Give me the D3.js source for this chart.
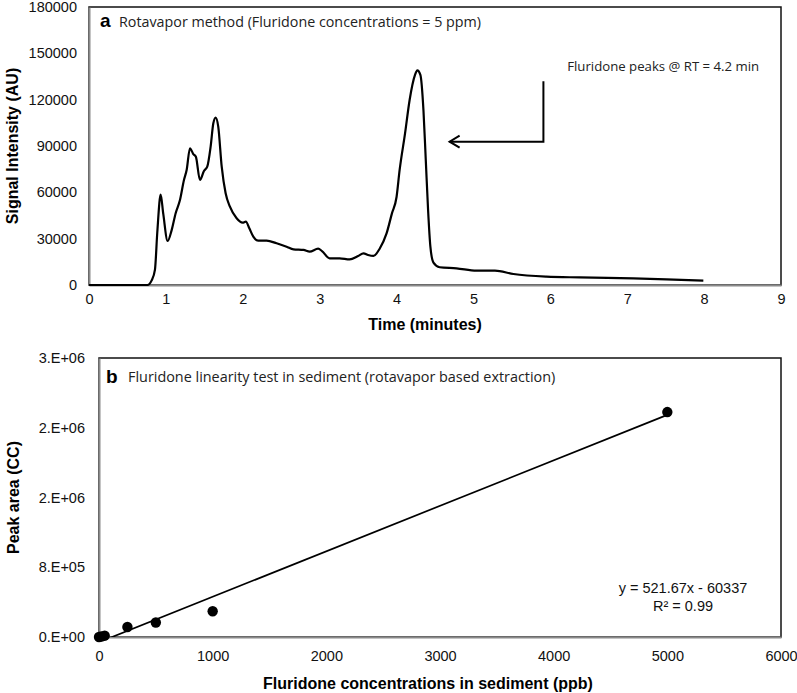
<!DOCTYPE html>
<html>
<head>
<meta charset="utf-8">
<script src="https://cdn.jsdelivr.net/npm/d3@7"></script>
<style>
  html, body { margin: 0; padding: 0; background: #fff; }
  svg { display: block; }
</style>
</head>
<body>
<svg id="chart" width="797" height="693"></svg>
<script>
// ---------- Panel a data (chromatogram) ----------
const timeMin = [0, 0.5, 0.76, 0.815, 0.858, 0.888, 0.932, 0.966, 1.023, 1.075, 1.127, 1.183, 1.235, 1.27, 1.313, 1.356, 1.39, 1.443, 1.495, 1.538, 1.582, 1.617, 1.647, 1.681, 1.726, 1.777, 1.833, 1.92, 1.998, 2.04, 2.085, 2.137, 2.2, 2.31, 2.44, 2.57, 2.66, 2.79, 2.87, 2.98, 3.03, 3.13, 3.26, 3.39, 3.5, 3.57, 3.63, 3.7, 3.78, 3.87, 3.94, 4.0, 4.04, 4.11, 4.17, 4.24, 4.27, 4.31, 4.35, 4.38, 4.41, 4.44, 4.48, 4.56, 4.78, 5.04, 5.28, 5.52, 5.95, 6.38, 7.08, 7.51, 7.99];
const signal = [0, 0, 0, 3000, 10000, 34000, 58500, 46000, 28500, 35500, 46500, 55000, 68000, 74500, 88500, 84800, 83000, 68000, 73800, 76600, 89600, 104700, 108400, 102500, 76600, 59400, 50700, 43200, 40400, 41000, 36700, 31300, 28700, 28700, 27000, 24800, 23100, 22700, 21600, 23500, 22000, 17300, 17300, 16600, 18800, 20500, 19400, 18800, 23500, 33400, 46400, 57000, 74500, 98000, 119800, 136000, 139000, 136000, 113000, 81000, 48600, 24800, 14500, 11500, 10800, 9300, 9300, 7100, 5400, 4900, 4300, 3700, 2800];
const timeTicks = [0, 1, 2, 3, 4, 5, 6, 7, 8, 9];
const signalTicks = [0, 30000, 60000, 90000, 120000, 150000, 180000];
// arrow annotation (data units): vertical stem at t, from top to bottom, then left to tip
const arrowStemT = [5.91];
const arrowStemY = [132000, 92800];
const arrowTipT = [4.69];
const annoText = ["Fluridone peaks @ RT = 4.2 min"];
const annoPos = [6.22, 138500];

// ---------- Panel b data (linearity) ----------
const concPpb = [0, 20, 50, 250, 500, 1000, 5000];
const peakArea = [0, 5000, 15000, 115000, 166000, 295000, 2580000];
const concTicks = [0, 1000, 2000, 3000, 4000, 5000, 6000];
const areaTicks = [0, 800000, 1600000, 2400000, 3200000];
const areaTickLabels = ["0.E+00", "8.E+05", "2.E+06", "2.E+06", "3.E+06"];
const fitSlope = 521.67, fitIntercept = -60337;
const fitText = ["y = 521.67x - 60337", "R\u00B2 = 0.99"];

const svg = d3.select("#chart");
const numFont = "'Liberation Sans', Arial, sans-serif";
const txtFont = "'Open Sans', 'Noto Sans', sans-serif";

// ================= Panel a =================
const A = { left: 89, right: 781, top: 7, bottom: 285 };
const xa = d3.scaleLinear().domain([0, 9]).range([A.left, A.right]);
const ya = d3.scaleLinear().domain([0, 180000]).range([A.bottom, A.top]);

const ga = svg.append("g");
ga.append("rect").attr("x", A.left).attr("y", A.top)
  .attr("width", A.right - A.left).attr("height", A.bottom - A.top)
  .attr("fill", "none").attr("stroke", "#111").attr("stroke-width", 1.5);

// axes
const xAxisA = d3.axisBottom(xa).tickValues(timeTicks).tickSize(0).tickPadding(9).tickFormat(d3.format("d"));
const gxA = ga.append("g").attr("transform", `translate(0,${A.bottom})`).call(xAxisA);
const yAxisA = d3.axisLeft(ya).tickValues(signalTicks).tickSize(0).tickPadding(12).tickFormat(d3.format("d"));
const gyA = ga.append("g").attr("transform", `translate(${A.left},0)`).call(yAxisA);
[gxA, gyA].forEach(g => {
  g.select(".domain").attr("stroke", "#8a8a8a").attr("stroke-width", 2);
  g.selectAll("text").attr("font-family", numFont).attr("font-size", 14.5).attr("fill", "#111");
});

// curve
const ptsA = timeMin.map((t, i) => [t, signal[i]]);
ga.append("path").datum(ptsA)
  .attr("d", d3.line().x(d => xa(d[0])).y(d => ya(d[1])).curve(d3.curveMonotoneX))
  .attr("fill", "none").attr("stroke", "#000").attr("stroke-width", 2.2).attr("stroke-linejoin", "round");

// arrow
const sx = xa(arrowStemT[0]), sy1 = ya(arrowStemY[0]), sy2 = ya(arrowStemY[1]), tx = xa(arrowTipT[0]);
ga.append("path")
  .attr("d", `M${sx},${sy1}V${sy2}H${tx}`)
  .attr("fill", "none").attr("stroke", "#000").attr("stroke-width", 2);
ga.append("path")
  .attr("d", `M${tx + 10},${sy2 - 6}L${tx},${sy2}L${tx + 10},${sy2 + 6}`)
  .attr("fill", "none").attr("stroke", "#000").attr("stroke-width", 2);
ga.append("text").attr("x", xa(annoPos[0])).attr("y", ya(annoPos[1]))
  .attr("font-family", txtFont).attr("font-size", 13.2).attr("fill", "#222").text(annoText[0]);

// panel title
ga.append("text").attr("x", A.left + 11).attr("y", A.top + 20)
  .attr("font-family", numFont).attr("font-weight", "bold").attr("font-size", 19).text("a");
ga.append("text").attr("x", A.left + 30).attr("y", A.top + 20)
  .attr("font-family", txtFont).attr("font-size", 14.3).attr("fill", "#222")
  .text("Rotavapor method (Fluridone concentrations = 5 ppm)");

// axis titles
ga.append("text").attr("x", 425).attr("y", 330).attr("text-anchor", "middle")
  .attr("font-family", numFont).attr("font-weight", "bold").attr("font-size", 16).text("Time (minutes)");
ga.append("text").attr("transform", `translate(18,${(A.top + A.bottom) / 2}) rotate(-90)`)
  .attr("text-anchor", "middle")
  .attr("font-family", numFont).attr("font-weight", "bold").attr("font-size", 16).text("Signal Intensity (AU)");

// ================= Panel b =================
const B = { left: 99, right: 781, top: 358, bottom: 637 };
const xb = d3.scaleLinear().domain([0, 6000]).range([B.left, B.right]);
const yb = d3.scaleLinear().domain([0, 3200000]).range([B.bottom, B.top]);

const gb = svg.append("g");
gb.append("rect").attr("x", B.left).attr("y", B.top)
  .attr("width", B.right - B.left).attr("height", B.bottom - B.top)
  .attr("fill", "none").attr("stroke", "#111").attr("stroke-width", 1.5);

const xAxisB = d3.axisBottom(xb).tickValues(concTicks).tickSize(0).tickPadding(14).tickFormat(d3.format("d"));
const gxB = gb.append("g").attr("transform", `translate(0,${B.bottom})`).call(xAxisB);
const yAxisB = d3.axisLeft(yb).tickValues(areaTicks).tickSize(0).tickPadding(14)
  .tickFormat((d, i) => areaTickLabels[i]);
const gyB = gb.append("g").attr("transform", `translate(${B.left},0)`).call(yAxisB);
[gxB, gyB].forEach(g => {
  g.select(".domain").attr("stroke", "#8a8a8a").attr("stroke-width", 2);
  g.selectAll("text").attr("font-family", numFont).attr("font-size", 14.5).attr("fill", "#111");
});

// clip for trendline
svg.append("defs").append("clipPath").attr("id", "clipB")
  .append("rect").attr("x", B.left).attr("y", B.top).attr("width", B.right - B.left).attr("height", B.bottom - B.top);

const xFit = d3.extent(concPpb);
gb.append("line")
  .attr("clip-path", "url(#clipB)")
  .attr("x1", xb(xFit[0])).attr("y1", yb(fitSlope * xFit[0] + fitIntercept))
  .attr("x2", xb(xFit[1])).attr("y2", yb(fitSlope * xFit[1] + fitIntercept))
  .attr("stroke", "#000").attr("stroke-width", 1.7);

gb.selectAll("circle.pt").data(concPpb.map((c, i) => [c, peakArea[i]])).enter()
  .append("circle").attr("class", "pt")
  .attr("cx", d => xb(d[0])).attr("cy", d => yb(d[1])).attr("r", 5.2).attr("fill", "#000");

gb.selectAll("text.fit").data(fitText).enter().append("text").attr("class", "fit")
  .attr("x", 683).attr("y", (d, i) => 593 + i * 18).attr("text-anchor", "middle")
  .attr("font-family", numFont).attr("font-size", 14.5).attr("fill", "#111").text(d => d);

gb.append("text").attr("x", B.left + 7).attr("y", B.top + 25)
  .attr("font-family", numFont).attr("font-weight", "bold").attr("font-size", 19).text("b");
gb.append("text").attr("x", B.left + 29).attr("y", B.top + 24)
  .attr("font-family", txtFont).attr("font-size", 14.4).attr("fill", "#222")
  .text("Fluridone linearity test in sediment (rotavapor based extraction)");

gb.append("text").attr("x", 428).attr("y", 689).attr("text-anchor", "middle")
  .attr("font-family", numFont).attr("font-weight", "bold").attr("font-size", 16)
  .text("Fluridone concentrations in sediment (ppb)");
gb.append("text").attr("transform", `translate(19,${(B.top + B.bottom) / 2}) rotate(-90)`)
  .attr("text-anchor", "middle")
  .attr("font-family", numFont).attr("font-weight", "bold").attr("font-size", 16).text("Peak area (CC)");
</script>
</body>
</html>
